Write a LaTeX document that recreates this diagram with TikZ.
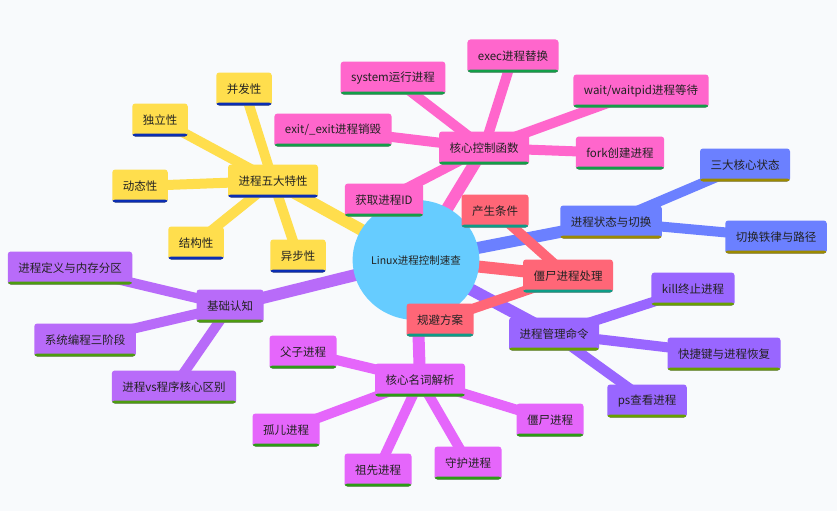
\documentclass[tikz,border=0pt]{standalone}
\usepackage{fontspec}
\usepackage{tikz}
\usetikzlibrary{shapes.geometric}
\newfontfamily\cn{Noto Sans CJK SC}
\definecolor{canvas}{HTML}{F8FAFC}
\definecolor{ink}{HTML}{222222}
\definecolor{hubc}{HTML}{66CCFF}
\definecolor{yelF}{HTML}{FFDE4D}
\definecolor{yelB}{HTML}{0A2DB3}
\definecolor{pnkF}{HTML}{FF66CC}
\definecolor{pnkB}{HTML}{139E48}
\definecolor{redF}{HTML}{FF6677}
\definecolor{redB}{HTML}{0D9C87}
\definecolor{bluF}{HTML}{6B80FF}
\definecolor{bluB}{HTML}{9C8A00}
\definecolor{purF}{HTML}{9966FF}
\definecolor{purB}{HTML}{67A000}
\definecolor{lavF}{HTML}{B86BF9}
\definecolor{lavB}{HTML}{4D9C10}
\definecolor{magF}{HTML}{E566FB}
\definecolor{magB}{HTML}{2C9C14}
\pgfdeclarelayer{bg}
\pgfdeclarelayer{lines}
\pgfsetlayers{bg,lines,main}
\tikzset{
  box/.style={rectangle, rounded corners=3pt, minimum height=33pt, inner xsep=10.5pt,
    text=ink, font=\cn\fontsize{11.5}{13}\selectfont},
  boxbar/.style={path picture={\fill[#1] (path picture bounding box.south west)
    rectangle ([yshift=3pt]path picture bounding box.south east);}},
  yel/.style={box, fill=yelF, boxbar=yelB},
  pnk/.style={box, fill=pnkF, boxbar=pnkB},
  rd/.style={box, fill=redF, boxbar=redB},
  blu/.style={box, fill=bluF, boxbar=bluB},
  pur/.style={box, fill=purF, boxbar=purB},
  lav/.style={box, fill=lavF, boxbar=lavB},
  mag/.style={box, fill=magF, boxbar=magB},
  trunk/.style={line width=12pt, #1},
  twig/.style={line width=10pt, #1},
}

\begin{document}
\begin{tikzpicture}[x=1pt, y=-1pt]
  \useasboundingbox (0,0) rectangle (837,511);
  \begin{pgfonlayer}{bg}
    \fill[canvas] (0,0) rectangle (837,511);
  \end{pgfonlayer}

  % centre
  \node[ellipse, fill=hubc, minimum width=120pt, minimum height=120pt, inner sep=0pt,
    text=ink, font=\cn\fontsize{10.5}{12}\selectfont] (root) at (416,260) {Linux进程控制速查};

  % five traits
  \node[yel] (trait) at (273,181) {进程五大特性};
  \node[yel] (concur) at (244,89) {并发性};
  \node[yel] (indep) at (160,120) {独立性};
  \node[yel] (dyn) at (140,186) {动态性};
  \node[yel] (struct) at (196,243) {结构性};
  \node[yel] (async) at (298,256) {异步性};

  % control functions
  \node[pnk] (func) at (484,148) {核心控制函数};
  \node[pnk] (sys) at (393,78) {system运行进程};
  \node[pnk] (exec) at (513,56) {exec进程替换};
  \node[pnk] (wait) at (641,91) {wait/waitpid进程等待};
  \node[pnk] (exit) at (333,130) {exit/\_exit进程销毁};
  \node[pnk] (fork) at (620,153) {fork创建进程};
  \node[pnk] (pid) at (384,200) {获取进程ID};

  % states
  \node[blu] (state) at (611,222) {进程状态与切换};
  \node[blu] (three) at (745,165) {三大核心状态};
  \node[blu] (rule) at (776,237) {切换铁律与路径};

  % commands
  \node[pur] (cmd) at (554,334) {进程管理命令};
  \node[pur] (kill) at (693,289) {kill终止进程};
  \node[pur] (keys) at (724,354) {快捷键与进程恢复};
  \node[pur] (ps) at (647,401) {ps查看进程};

  % basics
  \node[lav] (basic) at (230,306) {基础认知};
  \node[lav] (def) at (70,268) {进程定义与内存分区};
  \node[lav] (stage) at (85,340) {系统编程三阶段};
  \node[lav] (diff) at (174,387) {进程vs程序核心区别};

  % terms
  \node[mag] (term) at (420,380) {核心名词解析};
  \node[mag] (parent) at (303,352) {父子进程};
  \node[mag] (orphan) at (286,430) {孤儿进程};
  \node[mag] (ances) at (378,470) {祖先进程};
  \node[mag] (daemon) at (468,463) {守护进程};
  \node[mag] (zproc) at (550,420) {僵尸进程};

  % zombies
  \node[rd] (zomb) at (568,276) {僵尸进程处理};
  \node[rd] (cause) at (495,211) {产生条件};
  \node[rd] (avoid) at (440,320) {规避方案};

  \begin{pgfonlayer}{lines}
    \draw[trunk=yelF] (root.center) -- (trait.center);
    \foreach \leaf in {concur,indep,dyn,struct,async}
      \draw[twig=yelF] (trait.center) -- (\leaf.center);
    \draw[trunk=pnkF] (root.center) -- (func.center);
    \foreach \leaf in {sys,exec,wait,exit,fork,pid}
      \draw[twig=pnkF] (func.center) -- (\leaf.center);
    \draw[trunk=lavF] (root.center) -- (basic.center);
    \foreach \leaf in {def,stage,diff}
      \draw[twig=lavF] (basic.center) -- (\leaf.center);
    \draw[trunk=magF] (root.center) -- (term.center);
    \foreach \leaf in {parent,orphan,ances,daemon,zproc}
      \draw[twig=magF] (term.center) -- (\leaf.center);
    \draw[trunk=bluF] (root.center) -- (state.center);
    \foreach \leaf in {three,rule}
      \draw[twig=bluF] (state.center) -- (\leaf.center);
    \draw[trunk=purF] (root.center) -- (cmd.center);
    \foreach \leaf in {kill,keys,ps}
      \draw[twig=purF] (cmd.center) -- (\leaf.center);
    \draw[trunk=redF] (root.center) -- (zomb.center);
    \foreach \leaf in {cause,avoid}
      \draw[twig=redF] (zomb.center) -- (\leaf.center);
  \end{pgfonlayer}
\end{tikzpicture}
\end{document}
